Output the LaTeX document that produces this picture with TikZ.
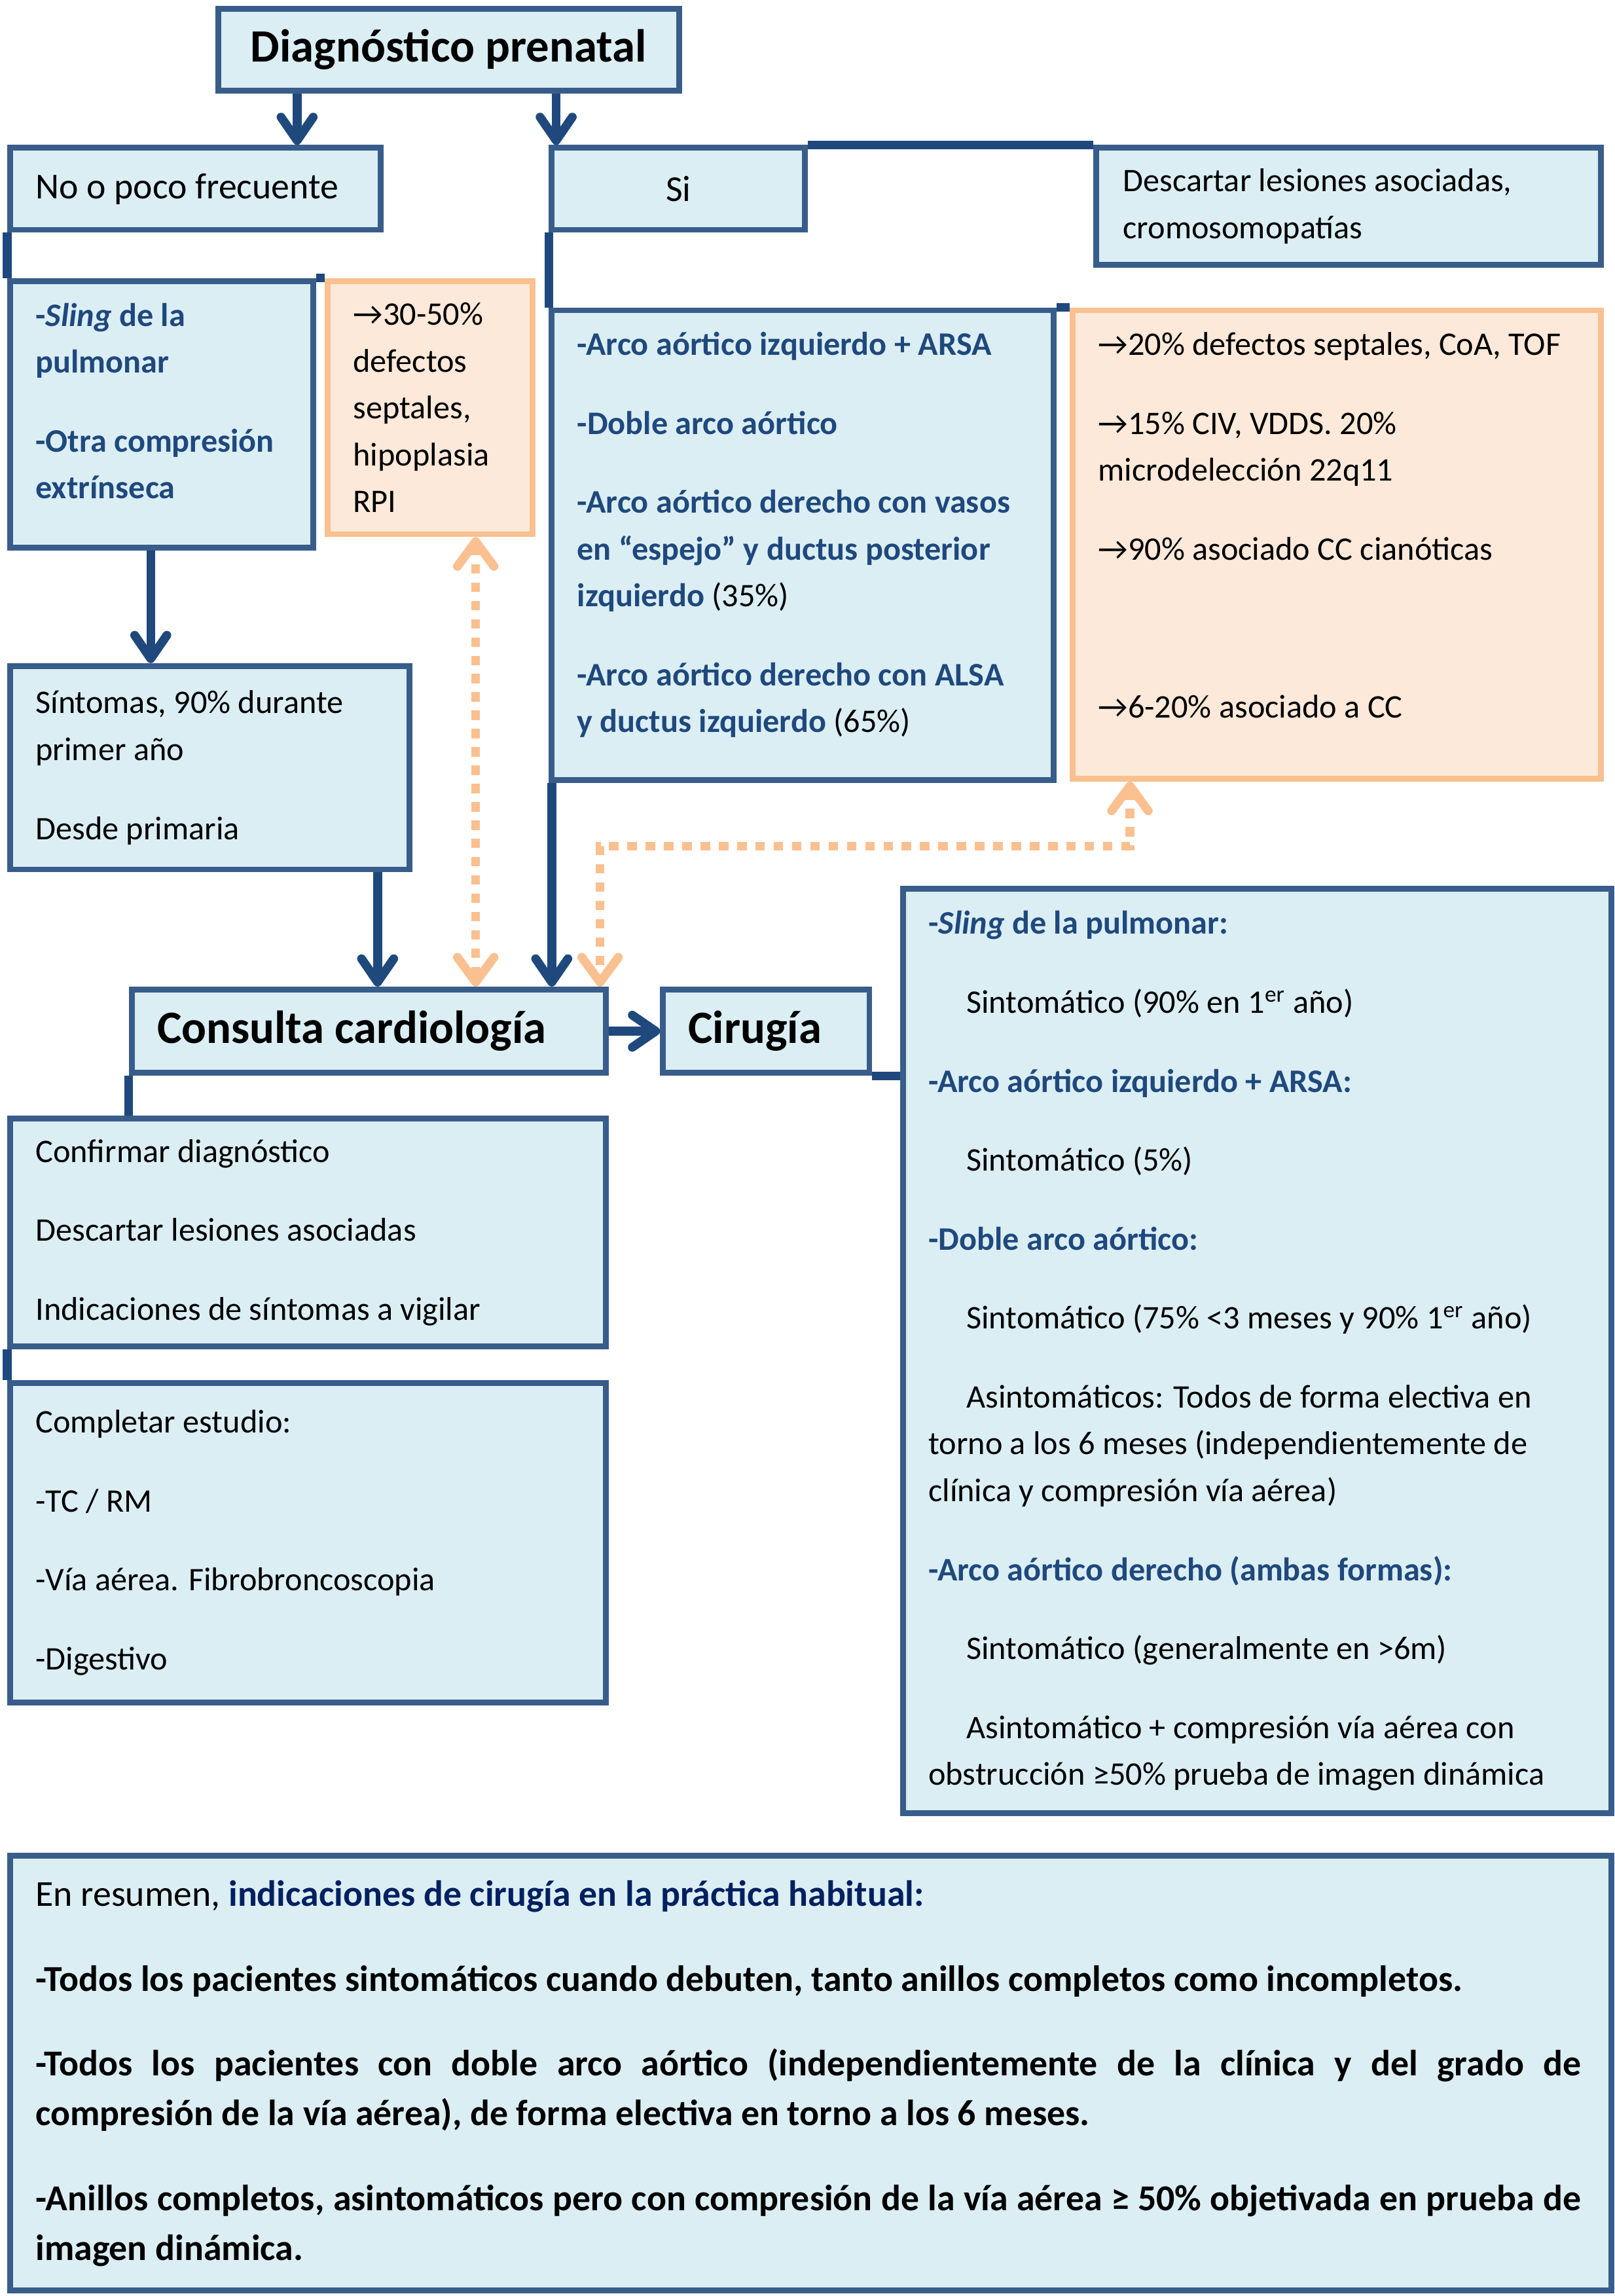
\documentclass[tikz,border=0pt]{standalone}
\usepackage{fontspec}
\setmainfont{Carlito}
\usetikzlibrary{positioning}
\usetikzlibrary{arrows.meta}

\definecolor{boxblue}{RGB}{56,93,138}
\definecolor{boxfill}{RGB}{219,238,244}
\definecolor{lineblue}{RGB}{31,73,125}
\definecolor{tblue}{RGB}{31,73,125}
\definecolor{navy}{RGB}{0,32,96}
\definecolor{boxorange}{RGB}{250,192,144}
\definecolor{fillorange}{RGB}{253,233,217}

\newcommand{\txtsize}{\fontsize{12.8pt}{18.2pt}\selectfont}
\newcommand{\midsize}{\fontsize{14.2pt}{18.2pt}\selectfont}
\newcommand{\restsize}{\fontsize{14.2pt}{19.3pt}\selectfont}
\newcommand{\pgap}{12.5pt}
\newcommand{\bluebf}[1]{\textcolor{tblue}{\bfseries #1}}
\newcommand{\toarrow}{→}
\newcommand{\ind}{\hspace*{0.52cm}}

\begin{document}
\begin{tikzpicture}[x=0.02cm,y=-0.02cm,
	bbox/.style={draw=boxblue, fill=boxfill, line width=0.08cm, anchor=north west, inner sep=0pt},
	obox/.style={draw=boxorange, fill=fillorange, line width=0.08cm, anchor=north west, inner sep=0pt},
	txt/.style={inner sep=0pt, align=left, font=\txtsize},
	bigtxt/.style={font=\fontsize{18pt}{22pt}\selectfont\bfseries},
	conn/.style={draw=lineblue, line width=0.12cm},
	arr/.style={conn, -{Straight Barb[length=0.32cm, width=0.44cm, round]}},
	dotarr/.style={draw=boxorange, line width=0.12cm, dash pattern=on 0.13cm off 0.12cm,
		{Straight Barb[length=0.34cm, width=0.5cm, round]}-{Straight Barb[length=0.34cm, width=0.5cm, round]}}]

	\useasboundingbox (0,0) rectangle (1103,1568.6);

	% Diagnostico prenatal
	\node[bbox, bigtxt, minimum width=6.3cm, minimum height=1.12cm] (diag) at (147,4) {Diagnóstico prenatal};

	% First level
	\node[bbox, minimum width=5.06cm, minimum height=1.12cm] (no) at (5,99) {};
	\node[txt, font=\midsize, right=0.38cm of no.west] (no-t) {No o poco frecuente};
	\node[bbox, font=\midsize, minimum width=3.46cm, minimum height=1.12cm] (si) at (375,99) {Si};
	\node[bbox, minimum width=6.9cm, minimum height=1.6cm] (desc) at (747,99) {};
	\node[txt, right=0.4cm of desc.west] (desc-t) {Descartar lesiones asociadas,\\cromosomopatías};

	% Left column
	\node[bbox, minimum width=4.14cm, minimum height=3.64cm] (sling) at (5,190) {};
	\node[txt, right=0.38cm of sling.west, yshift=0.18cm] (sling-t) {\bluebf{-\textit{Sling} de la}\\\bluebf{pulmonar}\\[\pgap]\bluebf{-Otra compresión}\\\bluebf{extrínseca}};
	\node[obox, minimum width=2.8cm, minimum height=3.46cm] (orsling) at (222,190) {};
	\node[txt, right=0.38cm of orsling.west] (orsling-t) {\toarrow30-50\%\\defectos\\septales,\\hipoplasia\\RPI};
	\node[bbox, minimum width=5.46cm, minimum height=2.78cm] (sint) at (5,453) {};
	\node[txt, right=0.38cm of sint.west] (sint-t) {Síntomas, 90\% durante\\primer año\\[\pgap]Desde primaria};

	% Middle column
	\node[bbox, minimum width=6.86cm, minimum height=6.42cm] (arco) at (375,210) {};
	\node[txt, right=0.38cm of arco.west, yshift=0.14cm] (arco-t) {\bluebf{-Arco aórtico izquierdo + ARSA}\\[\pgap]
		\bluebf{-Doble arco aórtico}\\[\pgap]
		\bluebf{-Arco aórtico derecho con vasos}\\
		\bluebf{en “espejo” y ductus posterior}\\
		\bluebf{izquierdo} (35\%)\\[\pgap]
		\bluebf{-Arco aórtico derecho con ALSA}\\
		\bluebf{y ductus izquierdo} (65\%)};
	\node[obox, minimum width=7.22cm, minimum height=6.4cm] (orarco) at (731,210) {};
	\node[txt, right=0.38cm of orarco.west, yshift=0.26cm] (orarco-t) {\toarrow20\% defectos septales, CoA, TOF\\[\pgap]
		\toarrow15\% CIV, VDDS. 20\%\\
		microdelección 22q11\\[\pgap]
		\toarrow90\% asociado CC cianóticas\\[43.2pt]
		\toarrow6-20\% asociado a CC};

	% Consulta and Cirugia
	\node[bbox, minimum width=6.48cm, minimum height=1.14cm] (cons) at (88,674) {};
	\node[txt, bigtxt, right=0.38cm of cons.west] (cons-t) {Consulta cardiología};
	\node[bbox, minimum width=2.82cm, minimum height=1.14cm] (cir) at (451,674) {};
	\node[txt, bigtxt, right=0.38cm of cir.west] (cir-t) {Cirugía};

	\node[bbox, minimum width=8.14cm, minimum height=3.12cm] (conf) at (5,762) {};
	\node[txt, right=0.38cm of conf.west] (conf-t) {Confirmar diagnóstico\\[\pgap]Descartar lesiones asociadas\\[\pgap]Indicaciones de síntomas a vigilar};
	\node[bbox, minimum width=8.14cm, minimum height=4.36cm] (comp) at (5,943) {};
	\node[txt, right=0.38cm of comp.west] (comp-t) {Completar estudio:\\[\pgap]-TC / RM\\[\pgap]-Vía aérea. Fibrobroncoscopia\\[\pgap]-Digestivo};

	% Surgery indications
	\node[bbox, minimum width=9.68cm, minimum height=12.64cm] (sur) at (615,605) {};
	\node[txt, right=0.38cm of sur.west] (sur-t) {\bluebf{-\textit{Sling} de la pulmonar:}\\[\pgap]
		\ind Sintomático (90\% en 1\textsuperscript{er} año)\\[\pgap]
		\bluebf{-Arco aórtico izquierdo + ARSA:}\\[\pgap]
		\ind Sintomático (5\%)\\[\pgap]
		\bluebf{-Doble arco aórtico:}\\[\pgap]
		\ind Sintomático (75\% <3 meses y 90\% 1\textsuperscript{er} año)\\[\pgap]
		\ind Asintomáticos: Todos de forma electiva en\\
		torno a los 6 meses (independientemente de\\
		clínica y compresión vía aérea)\\[\pgap]
		\bluebf{-Arco aórtico derecho (ambas formas):}\\[\pgap]
		\ind Sintomático (generalmente en >6m)\\[\pgap]
		\ind Asintomático + compresión vía aérea con\\
		obstrucción ≥50\% prueba de imagen dinámica};

	% Summary
	\node[bbox, minimum width=21.88cm, minimum height=5.94cm] (res) at (5,1266) {};
	\node[txt, font=\restsize, text width=21.12cm, align=justify, right=0.38cm of res.west] (res-t) {\hyphenpenalty=10000\exhyphenpenalty=10000
		En resumen, \textcolor{navy}{\bfseries indicaciones de cirugía en la práctica habitual:}\\[13.7pt]
		{\bfseries -Todos los pacientes sintomáticos cuando debuten, tanto anillos completos como incompletos.}\\[13.7pt]
		{\bfseries -Todos los pacientes con doble arco aórtico (independientemente de la clínica y del grado de\linebreak compresión de la vía aérea), de forma electiva en torno a los 6 meses.}\\[13.7pt]
		{\bfseries -Anillos completos, asintomáticos pero con compresión de la vía aérea ≥ 50\% objetivada en prueba de\linebreak imagen dinámica.}};

	% Draw the connectors
	\draw[arr] (diag.south -| 203,0) -- (no.north -| 203,0);
	\draw[arr] (diag.south -| 380,0) -- (si.north -| 380,0);
	\draw[conn] (si.north east) -- (desc.north west);
	\draw[conn] (no.south west) -- (sling.north west);
	\draw[conn] (sling.north east) -- (orsling.north west);
	\draw[conn] (si.south west) -- (arco.north west);
	\draw[conn] (arco.north east) -- (orarco.north west);
	\draw[arr] (sling.south -| 103,0) -- (sint.north -| 103,0);
	\draw[arr] (sint.south -| 258,0) -- (cons.north -| 258,0);
	\draw[arr] (arco.south -| 377,0) -- (cons.north -| 377,0);
	\draw[arr] (cons.east) -- (cir.west);
	\draw[conn] (cir.south east) -- (cir.south east -| sur.west);
	\draw[conn] (cons.south west) -- (cons.south west |- conf.north);
	\draw[conn] (conf.south west) -- (comp.north west);

	% Draw the dotted links
	\draw[dotarr] (orsling.south -| 325,0) -- (cons.north -| 325,0);
	\coordinate (bend) at (410,578);
	\draw[dotarr] (orarco.south -| 772,0) |- (bend) -- (bend |- cons.north);
\end{tikzpicture}
\end{document}
